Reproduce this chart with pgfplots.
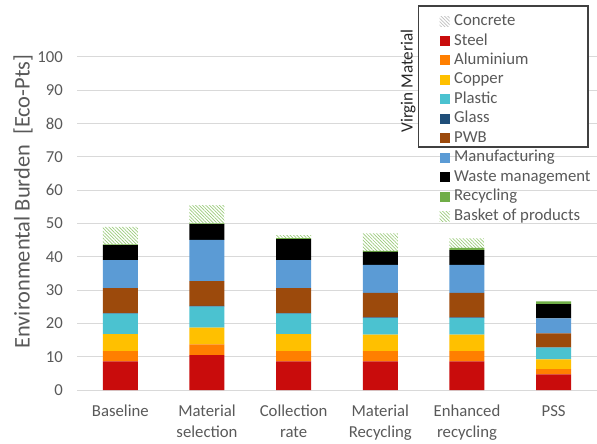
\documentclass[border=0pt]{standalone}
\usepackage{pgfplots}
\pgfplotsset{compat=1.18}
\usepackage{pgfplotstable}
\usepackage{fontspec}
\setmainfont{Carlito}
\usetikzlibrary{patterns.meta}

\definecolor{steelc}{HTML}{C90C0C}
\definecolor{aluc}{HTML}{FF7F00}
\definecolor{copperc}{HTML}{FFC000}
\definecolor{plasticc}{HTML}{4BC2D0}
\definecolor{glassc}{HTML}{1F4E79}
\definecolor{pwbc}{HTML}{9C4A0C}
\definecolor{manufc}{HTML}{5B9BD5}
\definecolor{wastec}{HTML}{000000}
\definecolor{recycc}{HTML}{70AD47}
\definecolor{basketc}{HTML}{9CCB7C}
\definecolor{concretec}{HTML}{BFBFBF}
\definecolor{gridc}{HTML}{D9D9D9}
\definecolor{textc}{HTML}{595959}
\definecolor{boxc}{HTML}{404040}

\pgfplotstableread{
x concrete steel alu copper plastic glass pwb manuf waste recyc basket
0 0 8.6  3.1 5.1 6.1 0.2 7.5 8.4  4.5 0.2 5.3
1 0 10.5 3.2 5.0 6.3 0.3 7.4 12.4 4.7 0.2 5.5
2 0 8.6  3.1 5.1 6.1 0.2 7.5 8.4  6.3 0.3 0.9
3 0 8.6  3.1 4.9 5.0 0.2 7.4 8.4  3.9 0.3 5.2
4 0 8.6  3.1 4.9 5.0 0.2 7.4 8.4  4.4 0.7 2.8
5 0 4.7  1.6 2.9 3.5 0.1 4.2 4.5  4.3 0.8 0
}\data

\pgfplotsset{sq legend/.style={legend image code/.code={\path[##1,draw=none] (0bp,-5bp) rectangle (10bp,5bp);}}}

\begin{document}
\begin{tikzpicture}
\path[use as bounding box] (0,0) rectangle (597bp,444bp);
\begin{axis}[
  at={(77bp,54bp)}, anchor=south west,
  scale only axis, width=520bp, height=333bp,
  ybar stacked, bar width=35bp,
  xmin=-0.5, xmax=5.5, ymin=0, ymax=100,
  xtick={0,...,5},
  xticklabels={Baseline,{Material\\selection},{Collection\\rate},{Material\\Recycling},{Enhanced\\recycling},PSS},
  ytick={0,10,...,100},
  /pgf/number format/assume math mode=true,
  tick label style={font=\fontsize{16.8}{21}\selectfont, text=textc},
  xticklabel style={align=center, inner sep=0pt, anchor=north, yshift=-15bp},
  yticklabel style={inner sep=0pt, anchor=east, xshift=-14bp},
  major tick length=0pt,
  axis lines*=left,
  y axis line style={draw=none},
  x axis line style={draw=gridc, line width=1bp},
  ymajorgrids, grid style={draw=gridc, line width=1bp},
  ylabel={Environmental Burden~ [Eco-Pts]},
  every axis y label/.style={at={(rel axis cs:-0.1038,0.566)}, rotate=90, anchor=center, font=\fontsize{22.5}{26}\selectfont, text=textc},
  clip=false,
  legend cell align=left,
  legend style={at={(0.697,1.128)}, anchor=north west, draw=none, fill=none, inner sep=0pt,
    font=\fontsize{16.8}{19.45}\selectfont, text=textc, row sep=5.45bp,
    nodes={inner sep=0pt, text height=11bp, text depth=3bp},
    /tikz/every odd column/.append style={column sep=4.5bp}},
]
\addplot[draw=none, pattern={Lines[angle=-45,distance=2.4bp,line width=0.7bp]}, pattern color=concretec, sq legend] table[x=x,y=concrete]{\data};
\addplot[draw=none, fill=steelc, sq legend] table[x=x,y=steel]{\data};
\addplot[draw=none, fill=aluc, sq legend] table[x=x,y=alu]{\data};
\addplot[draw=none, fill=copperc, sq legend] table[x=x,y=copper]{\data};
\addplot[draw=none, fill=plasticc, sq legend] table[x=x,y=plastic]{\data};
\addplot[draw=none, fill=glassc, sq legend] table[x=x,y=glass]{\data};
\addplot[draw=none, fill=pwbc, sq legend] table[x=x,y=pwb]{\data};
\addplot[draw=none, fill=manufc, sq legend] table[x=x,y=manuf]{\data};
\addplot[draw=none, fill=wastec, sq legend] table[x=x,y=waste]{\data};
\addplot[draw=none, fill=recycc, sq legend] table[x=x,y=recyc]{\data};
\addplot[draw=none, pattern={Lines[angle=-45,distance=2.4bp,line width=0.7bp]}, pattern color=basketc, sq legend] table[x=x,y=basket]{\data};
\legend{Concrete,Steel,Aluminium,Copper,Plastic,Glass,PWB,Manufacturing,Waste management,Recycling,Basket of products}
\draw[draw=boxc, line width=1.3bp, fill=white] (axis cs:3.437,115.3) rectangle (axis cs:5.396,72.97);
\node[rotate=90, anchor=center, font=\fontsize{17.2}{20}\selectfont, text=black!85] at (axis cs:3.32,92.8) {Virgin Material};
\end{axis}
\end{tikzpicture}
\end{document}
